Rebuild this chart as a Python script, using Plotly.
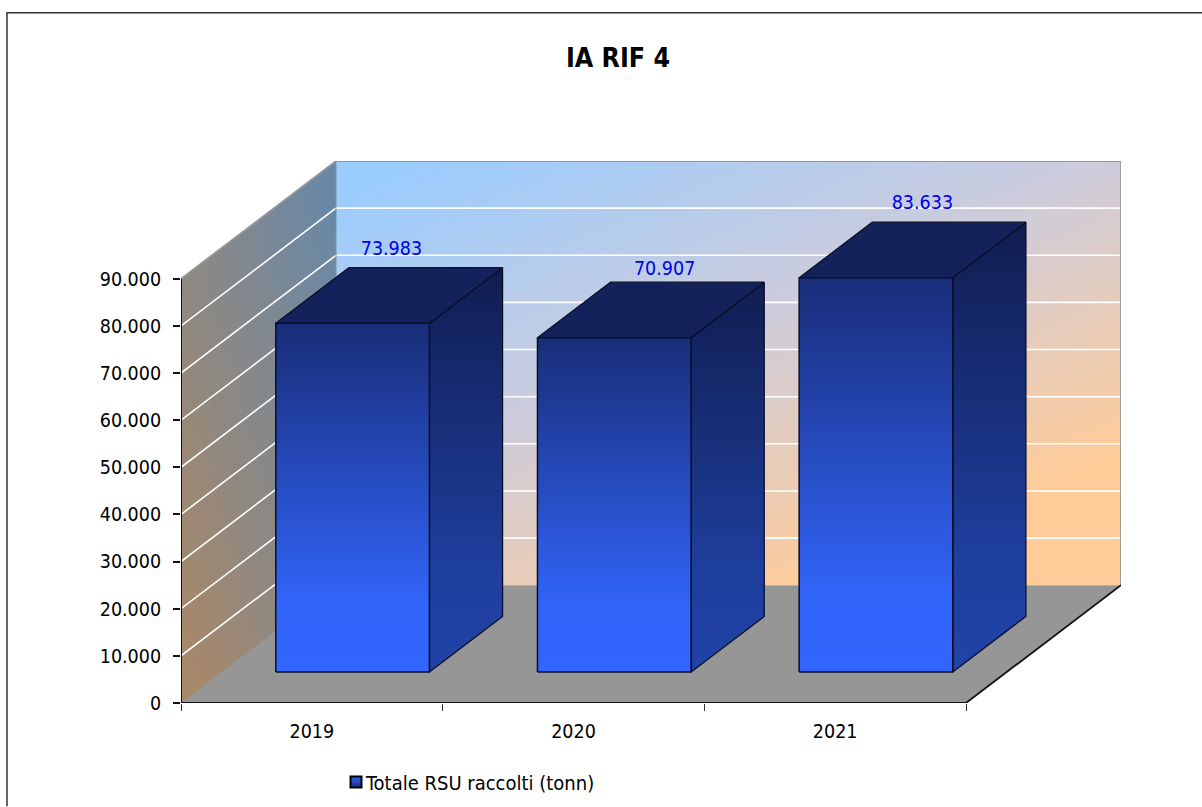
import numpy as np
import plotly.graph_objects as go

# ---- data ----
categories = ["2019", "2020", "2021"]
values = [73983, 70907, 83633]
series_name = "Totale RSU raccolti (tonn)"
title_text = "IA RIF 4"
y_ticks = [0, 10000, 20000, 30000, 40000, 50000, 60000, 70000, 80000, 90000]

# ---- style / projection ----
W, H = 1202, 807
L, R, T, B = 181, 1121, 160.5, 703.5      # plot-area pixels
PX_CAT = 261.67                            # pixels per category
PX_VAL = 425 / 90000                       # pixels per unit
DX = 155 / PX_CAT                          # depth vector, x (categories)
DY = 118 / PX_VAL                          # depth vector, y (units)
BAR_W = 0.587
Z0, Z1 = 0.263, 0.735                      # bar depth span
FONT = "DejaVu Sans Condensed, DejaVu Sans, sans-serif"
FS = 19.5
label_shift = [(0.008, -850), (0.052, -2090), (0.037, -765)]   # hand placement of value labels

X_MAX = (R - L) / PX_CAT
Y_MAX = (B - T) / PX_VAL


def P(x, v, z=0.0):
    return x + z * DX, v + z * DY


def poly(points):
    xs, ys = zip(*(points + [points[0]]))
    return list(xs), list(ys)


fig = go.Figure()

# --- walls (gradient images) ---
n = 48
u = np.linspace(0, 1, n)
uu, vv = np.meshgrid(u, u)   # row 0 = bottom of axis
back = np.clip(0.55 * uu + 0.68 * (1 - vv) - 0.03, 0, 1)
fig.add_trace(go.Heatmap(
    x=np.linspace(DX, X_MAX, n + 1), y=np.linspace(DY, Y_MAX, n + 1), z=back,
    zmin=0, zmax=1, zsmooth="best", showscale=False, hoverinfo="skip",
    colorscale=[[0, "#99CCFF"], [0.5, "#CCCCDD"], [1, "#FFCC99"]]))
left = 0.5 * (1 - uu) + 0.5 * (1 - vv)
fig.add_trace(go.Heatmap(
    x=np.linspace(0, DX, n + 1), y=np.linspace(0, Y_MAX, n + 1), z=left,
    zmin=0, zmax=1, zsmooth="best", showscale=False, hoverinfo="skip",
    colorscale=[[0, "#6688AA"], [1, "#AA8866"]]))


def add_poly(points, fill=None, line=None, width=1.5, grad=None):
    xs, ys = poly(points)
    kw = dict(x=xs, y=ys, mode="lines", fill="toself", showlegend=False,
              hoverinfo="skip", cliponaxis=False,
              line=dict(color=line or "rgba(0,0,0,0)", width=width if line else 0))
    if grad:
        kw["fillgradient"] = dict(type="vertical", colorscale=grad)
    else:
        kw["fillcolor"] = fill
    fig.add_trace(go.Scatter(**kw))


def add_line(xs, ys, color, width):
    fig.add_trace(go.Scatter(x=xs, y=ys, mode="lines", showlegend=False, hoverinfo="skip",
                             cliponaxis=False, line=dict(color=color, width=width)))


# white mask above the sloped top of the left wall
add_poly([P(0, 90000), P(DX, Y_MAX), P(0, Y_MAX)], fill="#FFFFFF")

# --- gridlines ---
for v in y_ticks[1:-1]:
    a, b, c = P(0, v), P(0, v, 1), P(3, v, 1)
    add_line([a[0], b[0], c[0]], [a[1], b[1], c[1]], "#FFFFFF", 1.6)

# wall edges
a, b, c, d = P(0, 90000), P(0, 90000, 1), P(3, 90000, 1), P(3, 0, 1)
add_line([a[0], b[0], c[0], d[0]], [a[1], b[1], c[1], d[1]], "#969696", 1.8)
e = P(0, 0, 1)
add_line([e[0], b[0]], [e[1], b[1]], "#8090A0", 1)

# --- floor ---
add_poly([P(0, 0), P(3, 0), P(3, 0, 1), P(0, 0, 1)], fill="#969696")
f0, f1, f2 = P(0, 0), P(3, 0), P(3, 0, 1)
add_line([f0[0], f1[0], f2[0]], [f0[1], f1[1], f2[1]], "#111111", 1.8)
add_line([0, 0], [0, 90000], "#111111", 2)

# --- bars ---
FRONT = [[0, "#3366FF"], [0.2, "#3164F8"], [1, "#192D78"]]
SIDE = [[0, "#2143A8"], [0.25, "#1F3F9E"], [1, "#101D50"]]
TOP = "#13225A"
for i, v in enumerate(values):
    x0, x1 = i + 0.5 - BAR_W / 2, i + 0.5 + BAR_W / 2
    add_poly([P(x1, 0, Z0), P(x1, 0, Z1), P(x1, v, Z1), P(x1, v, Z0)], line="#0A0F28", grad=SIDE, width=1.3)
    add_poly([P(x0, v, Z0), P(x1, v, Z0), P(x1, v, Z1), P(x0, v, Z1)], fill=TOP, line="#0A0F28", width=1.3)
    add_poly([P(x0, 0, Z0), P(x1, 0, Z0), P(x1, v, Z0), P(x0, v, Z0)], line="#0A0F28", grad=FRONT, width=1.5)

# --- value labels ---
lx, ly = [], []
for i, v in enumerate(values):
    px, py = P(i + 0.5, v, 0.5)
    lx.append(px + label_shift[i][0])
    ly.append(py + 10500 + label_shift[i][1])
fig.add_trace(go.Scatter(x=lx, y=ly, mode="text", showlegend=False, hoverinfo="skip", cliponaxis=False,
                         text=[f"{v:,}".replace(",", ".") for v in values],
                         textposition="middle center",
                         textfont=dict(family=FONT, size=FS, color="#0000E6")))

# --- legend entry ---
fig.add_trace(go.Scatter(x=[None], y=[None], mode="markers", name=series_name,
                         marker=dict(symbol="square", size=11, color="#3366FF",
                                     gradient=dict(type="vertical", color="#192D78"),
                                     line=dict(color="#000000", width=2))))

# outer frame
to_px = lambda p: (p - L) / (R - L)
to_py = lambda p: (B - p) / (B - T)
fig.add_shape(type="path", xref="paper", yref="paper",
              path=f"M {to_px(7)} {to_py(807)} L {to_px(7)} {to_py(12)} L {to_px(1202)} {to_py(12)}",
              line=dict(color="#333333", width=1.5))

fig.update_layout(
    width=W, height=H, autosize=False,
    margin=dict(l=L, r=W - R, t=T, b=H - B, autoexpand=False),
    paper_bgcolor="#FFFFFF", plot_bgcolor="#FFFFFF",
    separators=",.",
    font=dict(family=FONT, size=FS, color="#000000"),
    title=dict(text=f"<b>{title_text}</b>", x=618 / W, y=1 - 58 / H, xref="container", yref="container",
               xanchor="center", yanchor="middle",
               font=dict(family=FONT, size=26.5, color="#000000")),
    showlegend=True,
    legend=dict(xref="container", yref="container", x=326 / W, y=1 - 782 / H, xanchor="left", yanchor="middle",
                bgcolor="rgba(0,0,0,0)", font=dict(family=FONT, size=20, color="#000000")),
    xaxis=dict(range=[0, X_MAX], showgrid=False, zeroline=False, showline=False,
               tickmode="array", tickvals=[0.5, 1.5, 2.5], ticktext=categories, ticks="",
               ticklabelstandoff=14, fixedrange=True,
               minor=dict(tickmode="array", tickvals=[0, 1, 2, 3], ticks="outside", ticklen=7,
                          tickcolor="#333333", tickwidth=1.2, showgrid=False)),
    yaxis=dict(range=[0, Y_MAX], showgrid=False, zeroline=False, showline=False,
               tickmode="array", tickvals=y_ticks, tickformat=",d", ticks="outside", ticklen=7,
               ticklabelstandoff=8, tickcolor="#111111", tickwidth=1.5, fixedrange=True),
)

fig.write_html("out.html", config={"displayModeBar": False},
               post_script="document.body.style.margin='0';document.body.style.overflow='hidden';"
                           "document.querySelectorAll('.legendsymbols').forEach(function(g){g.setAttribute('transform','translate(10,0)');});")
